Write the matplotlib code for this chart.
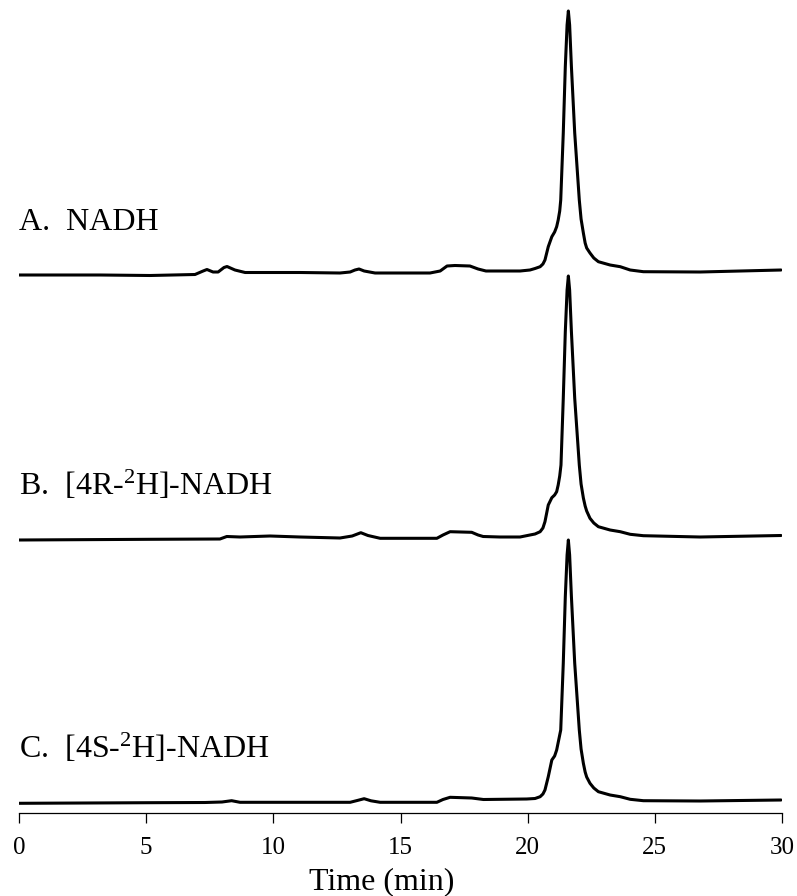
"""
plot.py - HPLC traces of NADH and deuterated NADH
"""
import matplotlib
matplotlib.use('Agg')
import matplotlib.pyplot as plt

plt.rcParams['font.family'] = ['Liberation Serif', 'DejaVu Serif']
plt.rcParams['mathtext.default'] = 'regular'

# Trace A: NADH  (time in min, signal in arbitrary units)
time_a = [0.00, 3.19, 5.15, 6.92, 7.24, 7.39, 7.63, 7.83, 8.06, 8.18, 8.49, 8.89,
          11.05, 12.62, 13.02, 13.21, 13.37, 13.57, 14.00, 16.16, 16.56, 16.83,
          17.14, 17.73, 18.05, 18.36, 19.70, 20.09, 20.29, 20.49, 20.60, 20.68,
          20.81, 20.95, 21.06, 21.14, 21.20, 21.26, 21.30, 21.40, 21.48, 21.55,
          21.60, 21.65, 21.72, 21.85, 22.03, 22.10, 22.19, 22.26, 22.32, 22.45,
          22.60, 22.78, 23.24, 23.64, 24.03, 24.55, 26.78, 29.96]
signal_a = [0, 0, -0.5, 0.5, 4, 5.5, 3, 3, 7.5, 8.5, 5, 2.5,
            2.5, 2, 3, 5, 6, 4, 2, 2, 4, 9,
            9.5, 9, 6, 4, 4, 5, 6.5, 8.3, 11, 15,
            28.3, 38.3, 43, 48.3, 55, 64, 75, 142, 208.3, 250,
            264, 250, 208.3, 142, 75, 56, 42, 32, 27, 22,
            17, 13.3, 10, 8.3, 5, 3.3, 3, 5]

# Trace B: [4R-2H]-NADH
time_b = [0.00, 5.15, 7.90, 8.17, 8.69, 9.87, 11.05, 12.62, 13.10, 13.44, 13.72,
          14.20, 16.43, 16.67, 16.95, 17.80, 18.05, 18.25, 18.91, 19.70, 20.09,
          20.29, 20.49, 20.60, 20.68, 20.81, 20.95, 21.06, 21.14, 21.20, 21.26,
          21.31, 21.40, 21.48, 21.55, 21.60, 21.65, 21.72, 21.85, 22.03, 22.10,
          22.19, 22.26, 22.32, 22.45, 22.60, 22.78, 23.24, 23.64, 24.03, 24.55,
          26.78, 29.96]
signal_b = [0, 0.7, 1, 3.5, 3, 4, 3, 2, 4, 7.3, 4.5,
            1.7, 1.7, 5, 8.3, 7.7, 5, 3.5, 3, 3, 5,
            6, 8.3, 12, 18.3, 35, 42.3, 45, 48.3, 55, 64,
            75, 141.7, 208.3, 250, 264, 250, 208.3, 141.7, 75, 56,
            42, 34, 29, 21.7, 17, 13.3, 10, 8.3, 5.7, 4.3,
            3, 4.5]

# Trace C: [4S-2H]-NADH
time_c = [0.00, 5.15, 7.31, 7.98, 8.36, 8.69, 11.05, 13.02, 13.30, 13.57, 13.84,
          14.20, 16.43, 16.67, 16.95, 17.80, 18.26, 19.96, 20.29, 20.49, 20.60,
          20.68, 20.81, 20.95, 21.06, 21.14, 21.22, 21.30, 21.40, 21.48, 21.55,
          21.60, 21.65, 21.72, 21.85, 22.03, 22.10, 22.19, 22.26, 22.32, 22.45,
          22.60, 22.78, 23.24, 23.64, 24.03, 24.55, 26.78, 29.96]
signal_c = [-0.3, 0.3, 0.5, 1, 2.3, 0.7, 0.7, 0.7, 2.5, 4.3, 2.2,
            0.7, 0.7, 3.5, 5.7, 5, 3.5, 4, 4.5, 6.3, 9,
            13, 26.3, 43, 47, 53, 63, 73, 139.7, 206.3, 248,
            263, 248, 206.3, 139.7, 73, 54, 39.7, 31, 26, 19.7,
            15, 11.3, 8, 6.3, 3.7, 2.3, 2, 3]

labels = ['A.  NADH', 'B.  [4R-$^{2}$H]-NADH', 'C.  [4S-$^{2}$H]-NADH']
offsets = [528, 263, 0]
xticks = [0, 5, 10, 15, 20, 25, 30]

fig = plt.figure(figsize=(7.97, 8.96), dpi=100)
ax = fig.add_axes([19 / 797, 83 / 896, 763 / 797, 813 / 896])

traces = [(time_a, signal_a), (time_b, signal_b), (time_c, signal_c)]
for (t, s), off, lab in zip(traces, offsets, labels):
    ax.plot(t, [v + off for v in s], color='black', lw=2.2,
            solid_joinstyle='round', solid_capstyle='round')
    ax.text(0, off + 45, lab, fontsize=23, ha='left', va='baseline')

ax.set_xlim(0, 30)
ax.set_ylim(-10, 803)
ax.set_xticks(xticks)
ax.tick_params(axis='x', direction='out', length=7.2, width=0.9,
               labelsize=18, pad=10)
ax.set_yticks([])
for side in ['left', 'right', 'top']:
    ax.spines[side].set_visible(False)
ax.spines['bottom'].set_linewidth(0.9)
ax.set_xlabel('Time (min)', fontsize=23, labelpad=6, x=0.475)

fig.savefig('out.png', dpi=100)
